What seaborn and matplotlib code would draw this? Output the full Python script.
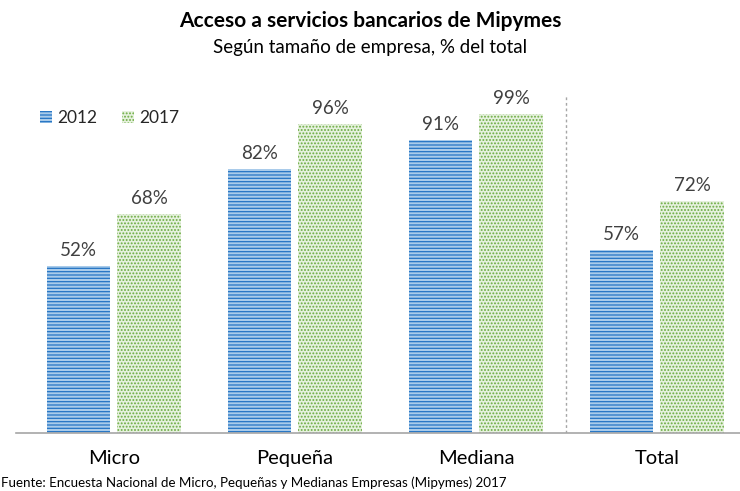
import matplotlib
matplotlib.use("Agg")
import matplotlib.pyplot as plt
import matplotlib.patches as mpatches
import seaborn as sns
import pandas as pd

categories = ["Micro", "Pequeña", "Mediana", "Total"]
years = ["2012", "2017"]
values_2012 = [52, 82, 91, 57]
values_2017 = [68, 96, 99, 72]

df = pd.DataFrame({
    "categoria": categories * 2,
    "año": [years[0]] * 4 + [years[1]] * 4,
    "valor": values_2012 + values_2017,
})

sns.set_theme(style="white")
plt.rcParams["font.family"] = ["Lato", "DejaVu Sans"]
plt.rcParams["hatch.linewidth"] = 0.9

fig = plt.figure(figsize=(7.4, 4.91), dpi=100)
ax = fig.add_axes([16 / 740, (491 - 433) / 491, 724 / 740, (433 - 95) / 491])

sns.barplot(data=df, x="categoria", y="valor", hue="año", order=categories,
            hue_order=years, ax=ax, width=0.78, gap=0.1, legend=False)

styles = {
    0: dict(fc="#A9CBEA", ec="#2474C4", hatch="-----"),
    1: dict(fc="#E6F1DE", ec="#6AAB3F", hatch="....."),
}
for i, cont in enumerate(ax.containers):
    st = styles[i]
    for bar in cont:
        bar.set_facecolor(st["fc"])
        bar.set_edgecolor(st["ec"])
        bar.set_hatch(st["hatch"])
        bar.set_linewidth(0)
    ax.bar_label(cont, labels=[f"{v:.0f}%" for v in cont.datavalues],
                 padding=5, fontsize=13.5, color="#404040")

ax.set_ylim(0, 105)
ax.set_xlim(-0.541, 3.459)
ax.axvline(2.5, ymin=0, ymax=1, color="#A6A6A6", lw=1, ls=(0, (2, 2)))

for s in ["top", "right", "left"]:
    ax.spines[s].set_visible(False)
ax.spines["bottom"].set_color("#A6A6A6")
ax.spines["bottom"].set_linewidth(1.2)
ax.set_yticks([])
ax.set_xlabel("")
ax.set_ylabel("")
ax.tick_params(axis="x", length=0, labelsize=14.5, colors="#000000", pad=12)

handles = [mpatches.Patch(facecolor=styles[i]["fc"], edgecolor=styles[i]["ec"],
                          hatch=styles[i]["hatch"], linewidth=0, label=years[i])
           for i in range(2)]
ax.legend(handles=handles, loc="upper left", bbox_to_anchor=(0.024, 0.975),
          ncol=2, frameon=False, fontsize=12.5, handlelength=0.7, handleheight=0.7,
          handletextpad=0.3, columnspacing=1.4, borderaxespad=0)

fig.text(0.5, 1 - 21 / 491, "Acceso a servicios bancarios de Mipymes",
         ha="center", va="center", fontsize=15, fontweight="bold", color="#000000")
fig.text(0.5, 1 - 47 / 491, "Según tamaño de empresa, % del total",
         ha="center", va="center", fontsize=13.5, color="#000000")
fig.text(0.002, 1 - 483 / 491,
         "Fuente: Encuesta Nacional de Micro, Pequeñas y Medianas Empresas (Mipymes) 2017",
         ha="left", va="center", fontsize=9.6, color="#000000")

fig.savefig("out.png", dpi=100)
